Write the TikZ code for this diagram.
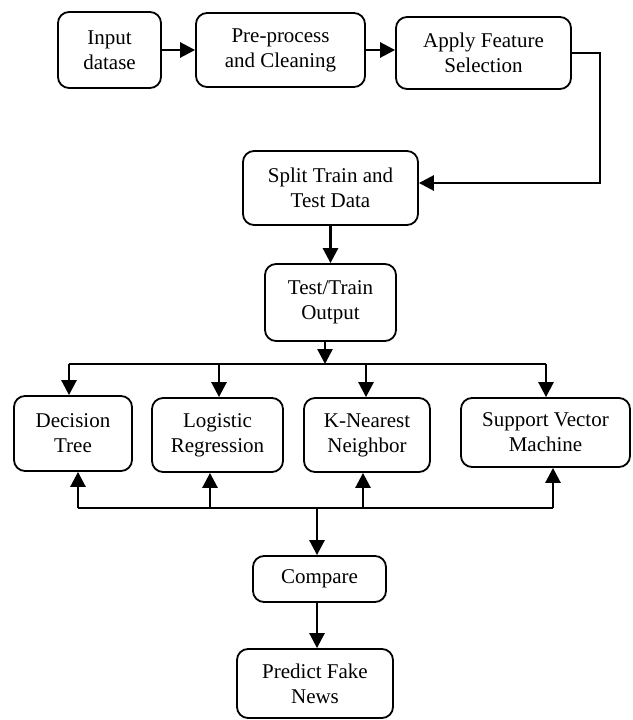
\documentclass[tikz,border=0pt]{standalone}
\usepackage{fontspec}
\setmainfont{Liberation Serif}
\usetikzlibrary{arrows.meta,calc}
\begin{document}
\begin{tikzpicture}[x=1pt,y=-1pt,
 box/.style={draw, line width=1.8pt, rounded corners=11pt, align=center, inner sep=0pt, font=\fontsize{21}{25}\selectfont},
 conn/.style={line width=2.7pt, -{Triangle[length=15pt,width=15pt]}},
 wire/.style={line width=2.7pt}]
\useasboundingbox (0,0) rectangle (632,720);
\node[box, minimum width=103pt, minimum height=76pt] (inp) at (109.5,50) {Input\\datase};
\node[box, minimum width=169pt, minimum height=74pt] (pre) at (280.5,50) {Pre-process\\and Cleaning};
\node[box, minimum width=175pt, minimum height=72pt] (app) at (483.5,53) {Apply Feature\\Selection};
\node[box, minimum width=175pt, minimum height=74pt] (spl) at (330.5,188) {Split Train and\\Test Data};
\node[box, minimum width=131pt, minimum height=77pt] (tt) at (330.5,302.5) {Test/Train\\Output};
\node[box, minimum width=118pt, minimum height=75pt] (dt) at (73,433.5) {Decision\\Tree};
\node[box, minimum width=131pt, minimum height=74pt] (lr) at (217.5,435) {Logistic\\Regression};
\node[box, minimum width=126pt, minimum height=74pt] (knn) at (367,435) {K-Nearest\\Neighbor};
\node[box, minimum width=169pt, minimum height=69pt] (svm) at (545.5,432.5) {Support Vector\\Machine};
\node[box, minimum width=133pt, minimum height=46pt] (cmp) at (319.5,579) {Compare};
\node[box, minimum width=156pt, minimum height=69pt] (pfn) at (315,683.5) {Predict Fake\\News};

% top row
\draw[conn] (inp.east) -- (pre.west);
\draw[conn] (pre.east) -- (pre.east -| app.west);
\coordinate (rc) at (600,183);
\draw[conn] (app.east) -| (rc) -- (rc -| spl.east);
\draw[conn] (spl.south) -- (tt.north);

% top bus
\coordinate (tb) at (325,364);
\draw[conn] (tb |- tt.south) -- (tb);
\coordinate (t1) at (69,364);
\coordinate (t2) at (219,364);
\coordinate (t3) at (366,364);
\coordinate (t4) at (546,364);
\draw[wire] (t1) -- (t4);
\draw[conn] (t1) -- (t1 |- dt.north);
\draw[conn] (t2) -- (t2 |- lr.north);
\draw[conn] (t3) -- (t3 |- knn.north);
\draw[conn] (t4) -- (t4 |- svm.north);

% bottom bus
\coordinate (b1) at (78,508);
\coordinate (b2) at (210,508);
\coordinate (b3) at (363,508);
\coordinate (b4) at (553,508);
\coordinate (bm) at (317,508);
\draw[wire] (b1) -- (b4);
\draw[conn] (b1) -- (b1 |- dt.south);
\draw[conn] (b2) -- (b2 |- lr.south);
\draw[conn] (b3) -- (b3 |- knn.south);
\draw[conn] (b4) -- (b4 |- svm.south);
\draw[conn] (bm) -- (bm |- cmp.north);
\draw[conn] (cmp.south -| bm) -- (pfn.north -| bm);
\end{tikzpicture}
\end{document}
